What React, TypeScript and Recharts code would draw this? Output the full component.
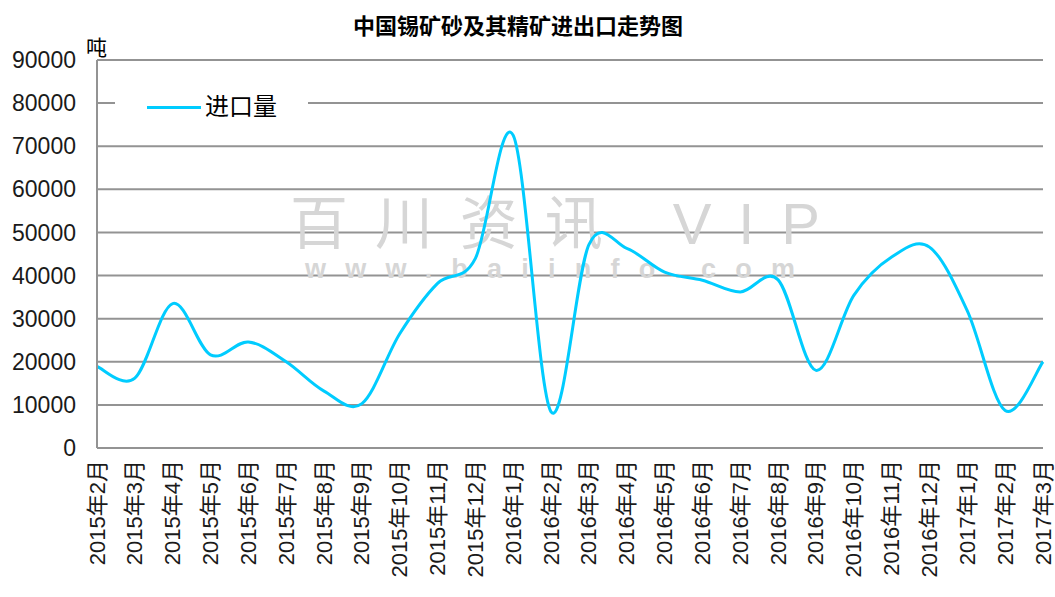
import { CartesianGrid, Customized, Legend, Line, LineChart, XAxis, YAxis } from "recharts";

const months = [
  "2015年2月", "2015年3月", "2015年4月", "2015年5月", "2015年6月", "2015年7月", "2015年8月",
  "2015年9月", "2015年10月", "2015年11月", "2015年12月", "2016年1月", "2016年2月", "2016年3月",
  "2016年4月", "2016年5月", "2016年6月", "2016年7月", "2016年8月", "2016年9月", "2016年10月",
  "2016年11月", "2016年12月", "2017年1月", "2017年2月", "2017年3月",
];

const imports = [
  18900, 16200, 33500, 21600, 24600, 20000, 13200, 10300, 26500, 38200, 44000, 72500, 8400,
  47200, 46300, 40800, 38900, 36200, 39000, 18000, 35400, 44300, 46600, 31800, 8700, 20000,
];

const yTicks = [0, 10000, 20000, 30000, 40000, 50000, 60000, 70000, 80000, 90000];

const data = months.map((month, i) => ({ month, imports: imports[i] }));

const FONT = "'Liberation Sans', 'Noto Sans CJK SC', sans-serif";
const CYAN = "#00ccff";
const GRID = "#939393";

// Excel-style smoothed line (Catmull-Rom through every point)
const excelSmooth = (context: any) => {
  let pts: [number, number][] = [];
  return {
    areaStart() {},
    areaEnd() {},
    lineStart() {
      pts = [];
    },
    point(x: number, y: number) {
      pts.push([+x, +y]);
    },
    lineEnd() {
      const n = pts.length;
      if (!n) return;
      context.moveTo(pts[0][0], pts[0][1]);
      for (let i = 0; i < n - 1; i++) {
        const p0 = pts[Math.max(i - 1, 0)];
        const p1 = pts[i];
        const p2 = pts[i + 1];
        const p3 = pts[Math.min(i + 2, n - 1)];
        context.bezierCurveTo(
          p1[0] + (p2[0] - p0[0]) / 6, p1[1] + (p2[1] - p0[1]) / 6,
          p2[0] - (p3[0] - p1[0]) / 6, p2[1] - (p3[1] - p1[1]) / 6,
          p2[0], p2[1],
        );
      }
    },
  };
};

const MonthTick = ({ x, y, payload }: any) => (
  <text
    transform={`translate(${x},${y}) rotate(-90)`}
    textAnchor="end"
    dominantBaseline="central"
    fontSize={22}
    fontFamily={FONT}
    fill="#1a1a1a"
  >
    {payload.value}
  </text>
);

const Decorations = () => (
  <g>
    <text x={555} y={244} textAnchor="middle" fontSize={58} fontFamily={FONT} fill="#d6d6d6" textLength={530} lengthAdjust="spacing">
      百川资讯 VIP
    </text>
    <text x={550} y={278} textAnchor="middle" fontSize={27} fontWeight="bold" fontFamily={FONT} fill="#d6d6d6" textLength={490} lengthAdjust="spacing">
      www.baiinfo.com
    </text>
    <text x={518} y={26} textAnchor="middle" dominantBaseline="central" fontSize={22} fontWeight="bold" fontFamily={FONT} fill="#000">
      中国锡矿砂及其精矿进出口走势图
    </text>
    <text x={86} y={47} dominantBaseline="central" fontSize={21} fontFamily={FONT} fill="#000">
      吨
    </text>
  </g>
);

const LegendBox = () => (
  <div style={{ background: "#fff", width: 193, height: 30, display: "flex", alignItems: "center" }}>
    <div style={{ marginLeft: 32, width: 54, height: 3, background: CYAN }} />
    <span style={{ marginLeft: 4, fontSize: 24, fontFamily: FONT, color: "#000", lineHeight: "30px" }}>进口量</span>
  </div>
);

export default function App() {
  return (
    <div style={{ position: "absolute", left: 0, top: 0, background: "#fff" }}>
      <LineChart width={1055} height={597} data={data} margin={{ top: 60, right: 12, bottom: 0, left: 0 }}>
        <CartesianGrid vertical={false} stroke={GRID} strokeWidth={2} />
        <Customized component={Decorations} />
        <XAxis
          dataKey="month"
          interval={0}
          height={149}
          tickSize={0}
          tickMargin={12}
          tick={<MonthTick />}
          axisLine={{ stroke: GRID, strokeWidth: 2 }}
        />
        <YAxis
          width={97}
          domain={[0, 90000]}
          ticks={yTicks}
          interval={0}
          tickSize={0}
          tickMargin={21}
          tickLine={false}
          axisLine={{ stroke: GRID, strokeWidth: 2 }}
          tick={{ fontSize: 23, fontFamily: FONT, fill: "#1a1a1a" }}
        />
        <Legend
          layout="horizontal"
          verticalAlign="middle"
          align="center"
          content={<LegendBox />}
          wrapperStyle={{ position: "absolute", left: 115, top: 92, width: 193 }}
        />
        <Line
          dataKey="imports"
          name="进口量"
          type={excelSmooth as any}
          stroke={CYAN}
          strokeWidth={3}
          dot={false}
          activeDot={false}
          isAnimationActive={false}
        />
      </LineChart>
    </div>
  );
}
